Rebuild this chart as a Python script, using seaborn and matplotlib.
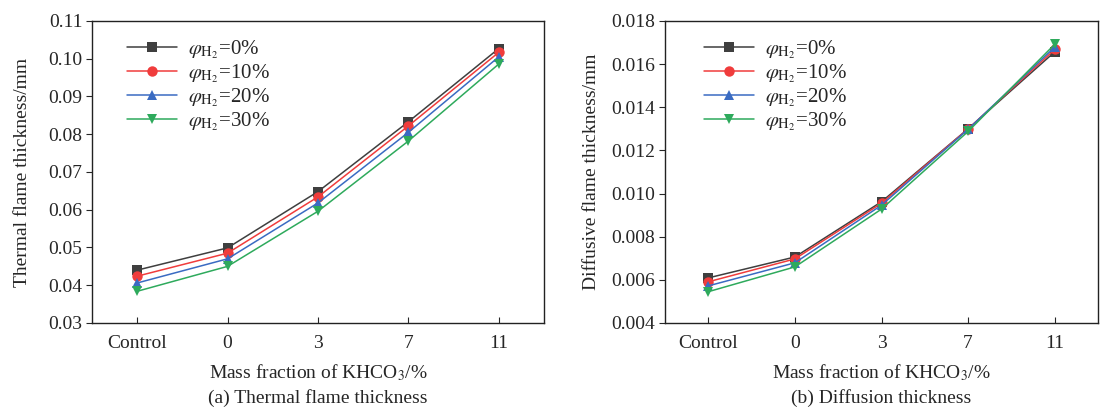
import numpy as np
import pandas as pd
import matplotlib
matplotlib.use("Agg")
import matplotlib.pyplot as plt
import seaborn as sns

categories = ["Control", "0", "3", "7", "11"]
h2_labels = ["0%", "10%", "20%", "30%"]

thermal_0 = [0.0440, 0.0499, 0.0648, 0.0833, 0.1027]
thermal_10 = [0.0424, 0.0485, 0.0634, 0.0822, 0.1017]
thermal_20 = [0.0406, 0.0470, 0.0618, 0.0805, 0.1005]
thermal_30 = [0.0384, 0.0450, 0.0596, 0.0782, 0.0986]

diffusive_0 = [0.00609, 0.00706, 0.00962, 0.01300, 0.01657]
diffusive_10 = [0.00591, 0.00697, 0.00955, 0.01300, 0.01668]
diffusive_20 = [0.00572, 0.00679, 0.00946, 0.01298, 0.01679]
diffusive_30 = [0.00545, 0.00660, 0.00928, 0.01288, 0.01692]

colors = ["#3f3f3f", "#f03c3c", "#3a6bc2", "#2eaa5c"]
markers = ["s", "o", "^", "v"]

sns.set_style("ticks")
plt.rcParams["font.family"] = ["Liberation Serif", "DejaVu Serif"]
plt.rcParams["mathtext.fontset"] = "stix"
plt.rcParams["font.size"] = 14


def long_frame(series):
    rows = []
    for lab, vals in zip(h2_labels, series):
        for c, v in zip(categories, vals):
            rows.append({"cat": c, "val": v, "h2": lab})
    return pd.DataFrame(rows)


fig = plt.figure(figsize=(11.07, 4.09), dpi=100)
ax1 = fig.add_axes([0.0831, 0.2103, 0.4083, 0.7384])
ax2 = fig.add_axes([0.6007, 0.2103, 0.3912, 0.7384])

panels = [
    (ax1, [thermal_0, thermal_10, thermal_20, thermal_30], (0.03, 0.11), np.arange(0.03, 0.1101, 0.01),
     "%.2f", "Thermal flame thickness/mm", "(a) Thermal flame thickness", (0.046, 0.99), 12),
    (ax2, [diffusive_0, diffusive_10, diffusive_20, diffusive_30], (0.004, 0.018), np.arange(0.004, 0.01801, 0.002),
     "%.3f", "Diffusive flame thickness/mm", "(b) Diffusion thickness", (0.057, 0.99), 8),
]

for ax, series, ylim, yticks, fmt, ylab, title, anchor, ypad in panels:
    df = long_frame(series)
    sns.lineplot(data=df, x="cat", y="val", hue="h2", style="h2", palette=colors,
                 markers=markers, dashes=False, markersize=7.5, linewidth=1.1,
                 markeredgewidth=0, ax=ax, sort=False, legend=False)
    ax.set_ylim(*ylim)
    ax.set_yticks(yticks)
    ax.set_yticklabels([fmt % t for t in yticks])
    ax.set_xlim(-0.5, 4.5)
    ax.set_xticks(range(len(categories)))
    ax.set_xticklabels(categories)
    ax.tick_params(axis="x", direction="in", length=4, width=0.8, pad=9)
    ax.tick_params(axis="y", direction="out", length=4, width=0.8, pad=3)
    ax.set_xlabel("Mass fraction of KHCO$_3$/%", labelpad=7)
    ax.set_ylabel(ylab, labelpad=ypad)
    for s in ax.spines.values():
        s.set_linewidth(1.0)
        s.set_color("#222222")
    ax.text(0.5, -0.25, title, transform=ax.transAxes, ha="center", va="center", fontsize=14)
    handles = [plt.Line2D([], [], color=c, marker=m, markersize=7.5, markeredgewidth=0, linewidth=1.1)
               for c, m in zip(colors, markers)]
    labels = [r"$\varphi_{\mathrm{H_2}}$=" + l for l in h2_labels]
    ax.legend(handles, labels, loc="upper left", frameon=False, fontsize=15,
              handlelength=2.4, handletextpad=0.5, labelspacing=0.05, borderaxespad=0.3,
              bbox_to_anchor=anchor)

fig.savefig("out.png", dpi=100)
